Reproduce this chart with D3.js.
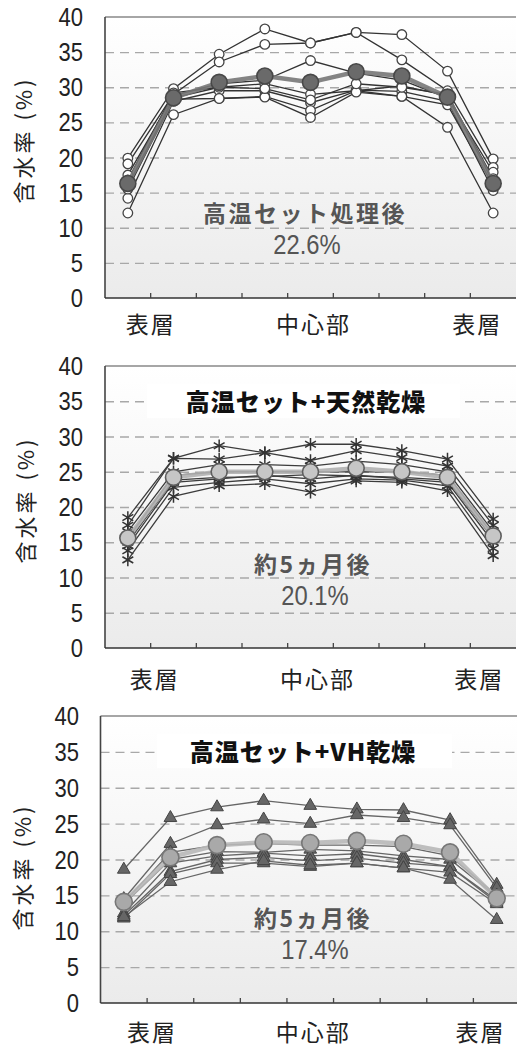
<!DOCTYPE html>
<html>
<head>
<meta charset="utf-8">
<script src="https://cdn.jsdelivr.net/npm/d3@7/dist/d3.min.js"></script>
<style>
  html, body { margin: 0; padding: 0; background: #fff; }
  svg { display: block; }
  text { font-family: "Liberation Sans", Arial, "Noto Sans CJK JP", sans-serif; }
  .jp { font-family: "Noto Sans CJK JP", "Noto Sans CJK SC", sans-serif; }
</style>
</head>
<body>
<svg id="chart" width="517" height="1047"></svg>
<script>
// ---------------- data ----------------
const categories = ["1", "2", "3", "4", "5", "6", "7", "8", "9"];
const yTicks = [0, 5, 10, 15, 20, 25, 30, 35, 40];
const gridValues = [5, 10, 15, 20, 25, 30, 35];
const xLabelText = ["表層", "中心部", "表層"];
const yAxisTitle = "含水率 (%)";

// Panel 1: 高温セット処理後 (open circles)
const panel1Series = [
  [19.9, 29.8, 34.7, 38.3, 36.3, 37.8, 37.5, 32.3, 19.8],
  [19.1, 29.0, 33.6, 36.1, 36.3, 37.8, 33.9, 29.5, 18.6],
  [17.5, 28.8, 30.5, 31.0, 33.8, 32.0, 31.0, 28.5, 17.9],
  [16.0, 28.5, 30.0, 30.5, 29.0, 29.5, 30.2, 28.8, 16.5],
  [14.2, 28.0, 29.5, 29.5, 27.8, 29.6, 29.4, 28.0, 15.3],
  [15.5, 28.3, 28.4, 28.7, 26.7, 29.5, 28.7, 27.5, 16.0],
  [12.1, 26.1, 28.4, 28.6, 25.7, 29.3, 28.7, 24.3, 12.1],
  [16.8, 29.2, 30.0, 29.8, 28.2, 30.5, 30.0, 29.0, 17.0]
];
const panel1Mean = [16.3, 28.5, 30.7, 31.6, 30.7, 32.2, 31.6, 28.6, 16.3];
const panel1Note = ["高温セット処理後", "22.6%"];

// Panel 2: 高温セット+天然乾燥 (asterisks)
const panel2Series = [
  [18.5, 26.9, 28.7, 27.7, 28.9, 28.9, 28.0, 26.8, 18.3],
  [17.4, 26.9, 26.8, 27.7, 26.6, 28.0, 27.0, 25.8, 17.4],
  [16.5, 25.0, 26.0, 26.0, 25.8, 26.5, 26.0, 25.0, 16.5],
  [15.5, 24.5, 25.0, 25.0, 25.0, 25.0, 25.0, 24.5, 16.0],
  [14.5, 23.5, 24.0, 24.5, 24.0, 24.5, 24.0, 23.5, 15.0],
  [13.8, 22.8, 23.5, 24.0, 23.3, 24.0, 23.8, 23.0, 14.1],
  [12.5, 21.5, 23.0, 23.3, 22.1, 23.7, 23.5, 22.3, 13.1],
  [15.0, 23.8, 24.2, 24.3, 24.6, 24.4, 24.2, 23.8, 15.5]
];
const panel2Mean = [15.6, 24.2, 25.0, 25.0, 25.0, 25.5, 25.0, 24.2, 15.9];
const panel2Title = "高温セット+天然乾燥";
const panel2Note = ["約5ヵ月後", "20.1%"];

// Panel 3: 高温セット+VH乾燥 (triangles)
const panel3Series = [
  [18.6, 25.8, 27.3, 28.2, 27.5, 27.0, 26.9, 25.5, 16.5],
  [14.5, 22.2, 24.8, 25.6, 25.0, 26.2, 25.8, 24.8, 16.0],
  [14.0, 21.0, 22.0, 22.2, 22.0, 22.0, 21.8, 20.5, 15.0],
  [13.8, 20.0, 21.1, 21.0, 21.4, 21.2, 20.5, 20.0, 14.8],
  [12.5, 19.5, 20.5, 20.9, 20.5, 20.8, 20.0, 19.0, 14.3],
  [12.2, 18.3, 20.0, 20.3, 19.8, 20.2, 19.5, 19.0, 14.0],
  [11.8, 18.0, 19.5, 19.5, 19.0, 19.5, 18.8, 18.2, 13.8],
  [12.0, 16.9, 18.6, 19.8, 19.2, 19.5, 18.8, 17.2, 11.6]
];
const panel3Mean = [14.1, 20.3, 22.0, 22.4, 22.3, 22.6, 22.2, 21.0, 14.6];
const panel3Title = "高温セット+VH乾燥";
const panel3Note = ["約5ヵ月後", "17.4%"];

// ---------------- drawing ----------------
const svg = d3.select("#chart");
const defs = svg.append("defs");
const grad = defs.append("linearGradient").attr("id", "bg")
  .attr("x1", 0).attr("y1", 0).attr("x2", 0).attr("y2", 1);
grad.append("stop").attr("offset", "0%").attr("stop-color", "#ffffff");
grad.append("stop").attr("offset", "100%").attr("stop-color", "#ebebeb");

function drawPanel(cfg) {
  const x = d3.scaleBand().domain(categories).range([cfg.left, cfg.right]);
  const bw = x.bandwidth();
  const cx = c => x(c) + bw / 2;
  const y = d3.scaleLinear().domain([0, 40]).range([cfg.bottom, cfg.top]);
  const g = svg.append("g");

  // background
  g.append("rect")
    .attr("x", cfg.left).attr("y", cfg.top)
    .attr("width", cfg.right - cfg.left).attr("height", cfg.bottom - cfg.top)
    .attr("fill", "url(#bg)");

  // gridlines
  g.append("g")
    .attr("transform", `translate(${cfg.left},0)`)
    .call(d3.axisLeft(y).tickValues(gridValues).tickSize(-(cfg.right - cfg.left)).tickFormat(""))
    .call(a => a.select(".domain").remove())
    .selectAll("line")
    .attr("stroke", "#a8a8a8").attr("stroke-width", 1.4).attr("stroke-dasharray", "9,6");

  // frame
  g.append("line").attr("x1", cfg.left).attr("x2", cfg.right).attr("y1", cfg.top).attr("y2", cfg.top)
    .attr("stroke", "#888").attr("stroke-width", 1.5);
  g.append("line").attr("x1", cfg.left).attr("x2", cfg.left).attr("y1", cfg.top).attr("y2", cfg.bottom)
    .attr("stroke", "#444").attr("stroke-width", 1.6);
  g.append("line").attr("x1", cfg.left).attr("x2", cfg.right).attr("y1", cfg.bottom).attr("y2", cfg.bottom)
    .attr("stroke", "#333").attr("stroke-width", 1.6);

  // x tick marks at category boundaries
  categories.slice(1).forEach(c => {
    g.append("line").attr("x1", x(c)).attr("x2", x(c))
      .attr("y1", cfg.bottom).attr("y2", cfg.bottom - 5)
      .attr("stroke", "#444").attr("stroke-width", 1.3);
  });

  // y tick labels
  yTicks.forEach(v => {
    g.append("text")
      .attr("transform", `translate(${cfg.labelX},${y(v)}) scale(0.88,1)`)
      .attr("text-anchor", "end").attr("dy", "0.36em")
      .attr("font-size", 25).attr("fill", "#222")
      .text(v);
  });

  // y axis title
  g.append("text").attr("class", "jp")
    .attr("transform", `translate(${cfg.titleX},${cfg.titleY}) rotate(-90)`)
    .attr("text-anchor", "middle").attr("dy", "0.36em")
    .attr("font-size", 22).attr("letter-spacing", 3).attr("fill", "#222")
    .text(yAxisTitle);

  // x labels
  const xPos = [x(categories[1]) + cfg.xlOff[0], cx(categories[4]) + cfg.xlOff[1], x(categories[8]) + cfg.xlOff[2]];
  xLabelText.forEach((t, i) => {
    g.append("text").attr("class", "jp")
      .attr("x", xPos[i]).attr("y", cfg.xlY)
      .attr("text-anchor", "middle").attr("font-size", 23).attr("letter-spacing", 2)
      .attr("fill", "#222").text(t);
  });

  // title with white background
  if (cfg.title) {
    g.append("rect").attr("x", cfg.titleBox[0]).attr("y", cfg.titleBox[1])
      .attr("width", cfg.titleBox[2]).attr("height", cfg.titleBox[3]).attr("fill", "#fff");
    g.append("text").attr("class", "jp")
      .attr("x", cfg.titlePos[0]).attr("y", cfg.titlePos[1])
      .attr("text-anchor", "middle").attr("font-size", 24).attr("font-weight", 900)
      .attr("letter-spacing", 1).attr("fill", "#111").text(cfg.title);
  }

  // notes
  g.append("text").attr("class", "jp")
    .attr("x", cfg.notePos[0]).attr("y", cfg.notePos[1])
    .attr("text-anchor", "middle").attr("font-size", 23).attr("font-weight", 700)
    .attr("letter-spacing", 2.5).attr("fill", "#555").text(cfg.note[0]);
  g.append("text")
    .attr("transform", `translate(${cfg.notePos[0] + 2},${cfg.notePos[1] + 32}) scale(0.85,1)`)
    .attr("text-anchor", "middle").attr("font-size", 28)
    .attr("fill", "#555").text(cfg.note[1]);

  const line = d3.line().x((d, i) => cx(categories[i])).y(d => y(d));

  // individual series
  cfg.series.forEach(s => {
    g.append("path").datum(s).attr("d", line)
      .attr("fill", "none").attr("stroke", cfg.lineColor).attr("stroke-width", 1.3);
  });
  cfg.series.forEach(s => {
    s.forEach((v, i) => {
      cfg.marker(g, cx(categories[i]), y(v));
    });
  });

  // mean series
  g.append("path").datum(cfg.mean).attr("d", line)
    .attr("fill", "none").attr("stroke", cfg.meanLine).attr("stroke-width", 4.5).attr("opacity", 0.9);
  cfg.mean.forEach((v, i) => {
    g.append("circle").attr("cx", cx(categories[i])).attr("cy", y(v)).attr("r", cfg.meanR)
      .attr("fill", cfg.meanFill).attr("stroke", cfg.meanStroke).attr("stroke-width", 1.6);
  });
}

const openCircle = (g, px, py) => g.append("circle").attr("cx", px).attr("cy", py).attr("r", 4.8)
  .attr("fill", "#fff").attr("stroke", "#444").attr("stroke-width", 1.3);
const asterisk = (g, px, py) => g.append("path")
  .attr("d", d3.symbol().type(d3.symbolAsterisk).size(110)())
  .attr("transform", `translate(${px},${py})`)
  .attr("fill", "none").attr("stroke", "#333").attr("stroke-width", 1.5);
const triangle = (g, px, py) => g.append("path")
  .attr("d", d3.symbol().type(d3.symbolTriangle).size(70)())
  .attr("transform", `translate(${px},${py})`)
  .attr("fill", "#666").attr("stroke", "#444").attr("stroke-width", 1);

drawPanel({
  left: 105, right: 516, top: 17, bottom: 298, labelX: 83, titleX: 24, titleY: 140,
  xlY: 333, xlOff: [0, 3, 7],
  series: panel1Series, mean: panel1Mean, marker: openCircle, lineColor: "#333",
  meanLine: "#777", meanFill: "#6a6a6a", meanStroke: "#484848", meanR: 8,
  note: panel1Note, notePos: [305, 222]
});

drawPanel({
  left: 105, right: 516, top: 366, bottom: 648, labelX: 83, titleX: 26, titleY: 500,
  xlY: 688, xlOff: [4, 7, 9],
  series: panel2Series, mean: panel2Mean, marker: asterisk, lineColor: "#3c3c3c",
  meanLine: "#b0b0b0", meanFill: "#c6c6c6", meanStroke: "#5e5e5e", meanR: 8,
  title: panel2Title, titlePos: [306, 411], titleBox: [147, 384, 313, 34],
  note: panel2Note, notePos: [313, 573]
});

drawPanel({
  left: 100.5, right: 520, top: 716, bottom: 1003, labelX: 79, titleX: 23, titleY: 867,
  xlY: 1041, xlOff: [5, 3, 7],
  series: panel3Series, mean: panel3Mean, marker: triangle, lineColor: "#666",
  meanLine: "#b8b8b8", meanFill: "#a9a9a9", meanStroke: "#777", meanR: 8.5,
  title: panel3Title, titlePos: [303, 761], titleBox: [157, 734, 295, 34],
  note: panel3Note, notePos: [313, 927]
});
</script>
</body>
</html>
